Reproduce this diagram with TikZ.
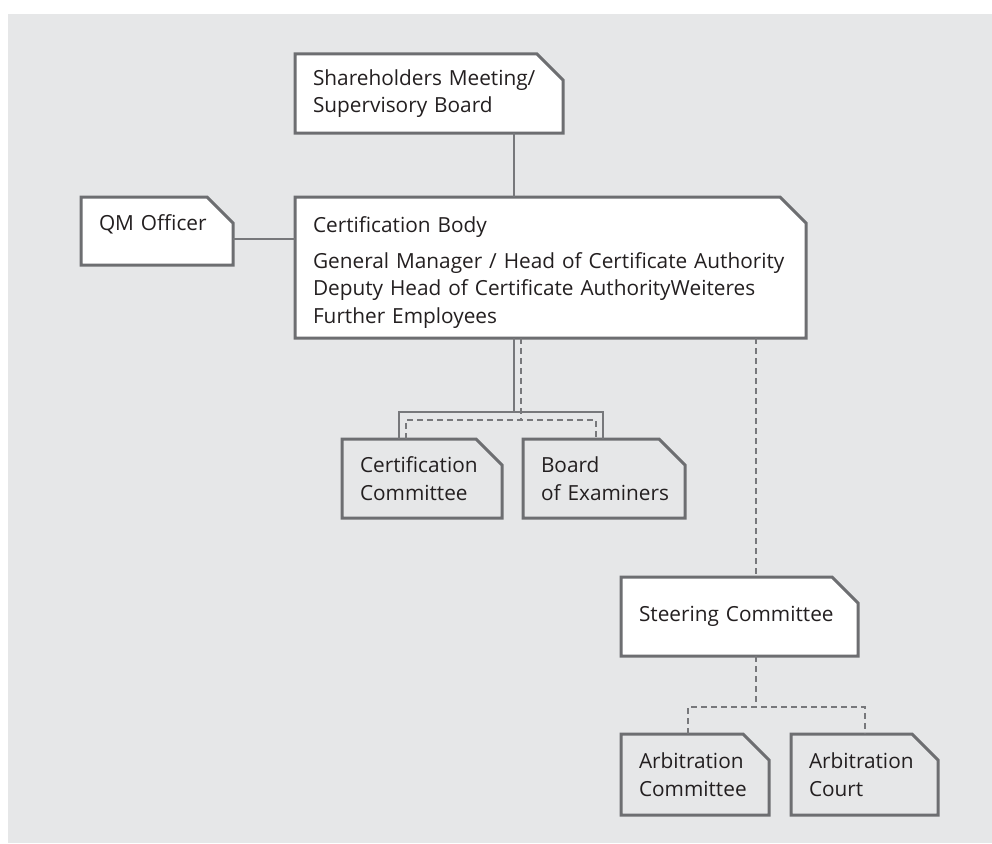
\documentclass[tikz,border=0pt]{standalone}
\usepackage{fontspec}
\setmainfont{Open Sans}
\usetikzlibrary{backgrounds}
\definecolor{panel}{HTML}{E6E7E8}
\definecolor{boxline}{HTML}{6D6E71}
\definecolor{linkline}{HTML}{77787B}
\definecolor{ink}{HTML}{231F20}
\hyphenpenalty=10000
\begin{document}
\begin{tikzpicture}[x=10pt,y=10pt]

\tikzstyle{box} = [anchor=north west,inner sep=0,outer sep=0,align=left,text=ink,font=\fontsize{20.8}{27.5}\selectfont]
\tikzstyle{link} = [draw=linkline,line width=1.5pt]
\tikzstyle{softlink} = [link,dash pattern=on 6pt off 4pt]

\useasboundingbox (0,0) rectangle (99.2,-84.3);

\node [box,minimum width=268pt,minimum height=79pt,text width=232pt] (sh) at (29.5,-5.4) {Shareholders~Meeting/\\Supervisory~Board};
\node [box,minimum width=152pt,minimum height=68pt,text width=116pt,text depth=17pt] (qm) at (8.1,-19.7) {QM~Officer};
\node [box,minimum width=511pt,minimum height=141pt,text width=475pt] (cb) at (29.5,-19.7) {\rule{0pt}{25pt}Certification~Body\\[8.5pt]General~Manager~/~Head~of~Certificate~Authority\\Deputy~Head~of~Certificate~AuthorityWeiteres\\Further~Employees};

\node [box,minimum width=160pt,minimum height=79pt,text width=124pt] (cc) at (34.2,-43.9) {Certification\\Committee};
\node [box,minimum width=162pt,minimum height=79pt,text width=126pt] (be) at (52.3,-43.9) {Board\\\mbox{of Examiners}};

\node [box,minimum width=237pt,minimum height=79pt,text width=201pt] (sc) at (62.1,-57.7) {Steering~Committee};
\node [box,minimum width=148pt,minimum height=81pt,text width=112pt] (ac) at (62.1,-73.4) {Arbitration\\Committee};
\node [box,minimum width=147pt,minimum height=81pt,text width=111pt] (ct) at (79.1,-73.4) {Arbitration\\Court};

% x positions of the drops, y positions of the bars
\coordinate (xa) at (51.4,0); \coordinate (xb) at (52.1,0);
\coordinate (xc) at (39.9,0); \coordinate (xd) at (40.6,0);
\coordinate (xe) at (60.3,0); \coordinate (xf) at (59.6,0);
\coordinate (xg) at (75.6,0); \coordinate (xh) at (68.8,0); \coordinate (xi) at (86.5,0);
\coordinate (ya) at (0,-41.2); \coordinate (yb) at (0,-42.0); \coordinate (yc) at (0,-70.7);

\draw [link] (sh.south -| xa) -- (cb.north -| xa);
\draw [link] ([yshift=-8pt]qm.east) -- ([yshift=-8pt]qm.east -| cb.west);

\draw [link] (cb.south -| xa) -- (ya -| xa);
\draw [link] (cc.north -| xc) |- (ya -| xe) -- (be.north -| xe);
\draw [softlink] (cb.south -| xb) -- (yb -| xb);
\draw [softlink] (cc.north -| xd) |- (yb -| xf) -- (be.north -| xf);

\draw [softlink] (cb.south -| xg) -- (sc.north -| xg);
\draw [softlink] (sc.south -| xg) -- (yc -| xg);
\draw [softlink] (ac.north -| xh) |- (yc -| xi) -- (ct.north -| xi);

\begin{scope}[on background layer]
\fill [panel] (0.8,-1.4) rectangle (99.2,-84.3);
\foreach \n/\c in {sh/white,qm/white,cb/white,cc/panel,be/panel,sc/white,ac/panel,ct/panel}
  \draw [boxline,line width=3pt,fill=\c] (\n.north west) -- ([xshift=-26pt]\n.north east) -- ([yshift=-26pt]\n.north east) -- (\n.south east) -- (\n.south west) -- cycle;
\end{scope}
\end{tikzpicture}
\end{document}
